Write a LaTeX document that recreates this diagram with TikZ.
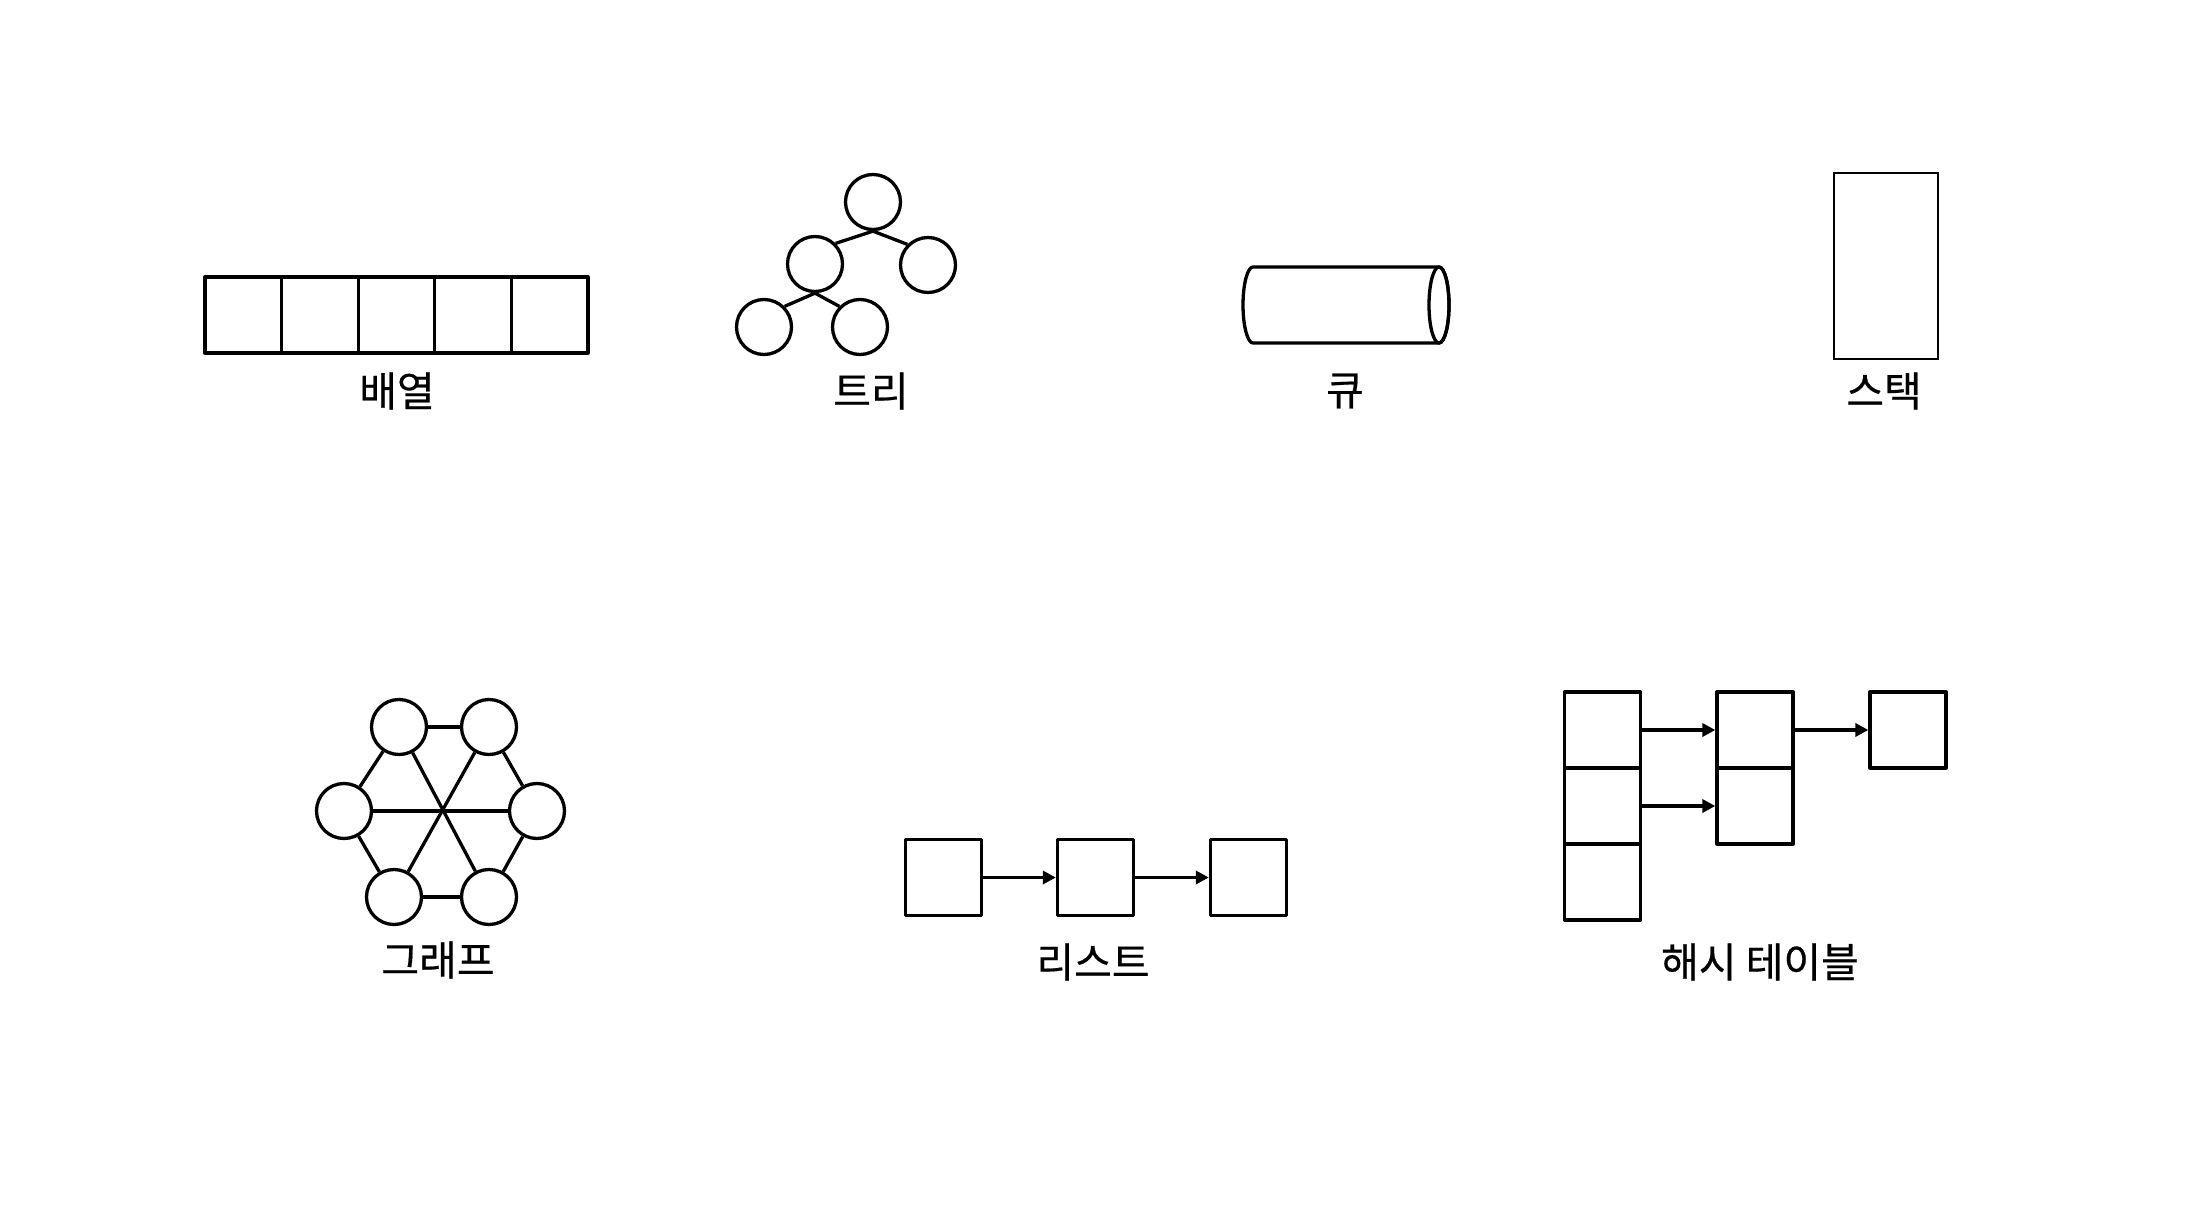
\documentclass[tikz,border=0pt]{standalone}
\usepackage{fontspec}
\newfontfamily\krfont[FakeBold=0.5]{Noto Sans CJK KR}
\usetikzlibrary{arrows.meta}
\begin{document}
\begin{tikzpicture}[x=0.5pt,y=-0.5pt,
  ln/.style={line width=1.65pt, line join=round},
  cell/.style={draw, ln, rectangle, minimum width=38.3pt, minimum height=38pt, inner sep=0pt, outer sep=0pt},
  bx/.style={draw, ln, rectangle, minimum width=38pt, minimum height=38pt, inner sep=0pt},
  nd/.style={draw, ln, circle, minimum size=27.5pt, inner sep=0pt},
  edge/.style={ln},
  arr/.style={ln, -{Triangle[length=6.5pt,width=6.5pt]}},
  lbl/.style={font=\krfont\fontsize{20.5pt}{24pt}\selectfont, inner sep=0pt, anchor=center}]
\useasboundingbox (0,0) rectangle (2194,1230);
% ---- array
\foreach \i in {0,...,4} {
  \node[cell] (a\i) at ({205+38.3+76.6*\i},315) {};
}
\node[lbl] (larr) at (397,391) {배열};
% ---- tree
\node[nd] (t0) at (873,202) {};
\node[nd] (t1) at (815,264) {};
\node[nd] (t2) at (928,265) {};
\node[nd] (t3) at (764,327) {};
\node[nd] (t4) at (860,327) {};
\draw[edge] (t0.south) -- (t1.45);
\draw[edge] (t0.south) -- (t2.135);
\draw[edge] (t1.south) -- (t3.45);
\draw[edge] (t1.south) -- (t4.135);
\node[lbl] (ltree) at (871,391) {트리};
% ---- queue
\coordinate (qa) at (1253,267);
\coordinate (qb) at (1439,343);
\coordinate (qc) at (1439,305);
\draw[ln] (qa) arc[start angle=90,end angle=270,x radius=5pt,y radius=19pt] -- (qb)
   arc[start angle=270,end angle=450,x radius=5pt,y radius=19pt] -- cycle;
\draw[ln] (qc) ellipse[x radius=5pt,y radius=19pt];
\node[lbl] (lq) at (1345,391) {큐};
% ---- stack
\node[draw, line width=1pt, rectangle, minimum width=52pt, minimum height=93pt, inner sep=0pt] (st) at (1886,266) {};
\node[lbl] (lst) at (1884,391) {스택};
% ---- graph
\node[nd] (g1) at (399,727) {};
\node[nd] (g2) at (489,727) {};
\node[nd] (g3) at (344,811) {};
\node[nd] (g4) at (537,811) {};
\node[nd] (g5) at (394,897) {};
\node[nd] (g6) at (489,897) {};
\draw[edge] (g1) -- (g2);
\draw[edge] (g5) -- (g6);
\draw[edge] (g1) -- (g3);
\draw[edge] (g3) -- (g5);
\draw[edge] (g2) -- (g4);
\draw[edge] (g4) -- (g6);
\draw[edge] (g3) -- (g4);
\draw[edge] (g1) -- (g6);
\draw[edge] (g2) -- (g5);
\node[lbl] (lg) at (438,960) {그래프};
% ---- list
\node[bx] (l1) at (943.5,877.5) {};
\node[bx] (l2) at (1095.5,877.5) {};
\node[bx] (l3) at (1248.5,877.5) {};
\draw[arr] (l1) -- (l2);
\draw[arr] (l2) -- (l3);
\node[lbl] (ll) at (1093,962) {리스트};
% ---- hash table
\node[bx] (h1) at (1602.5,730) {};
\node[bx] (h2) at (1602.5,806) {};
\node[bx] (h3) at (1602.5,882) {};
\node[bx] (h4) at (1755,730) {};
\node[bx] (h5) at (1755,806) {};
\node[bx] (h6) at (1908,730) {};
\draw[arr] (h1) -- (h4);
\draw[arr] (h2) -- (h5);
\draw[arr] (h4) -- (h6);
\node[lbl] (lh) at (1760,962) {해시 테이블};
\end{tikzpicture}
\end{document}
